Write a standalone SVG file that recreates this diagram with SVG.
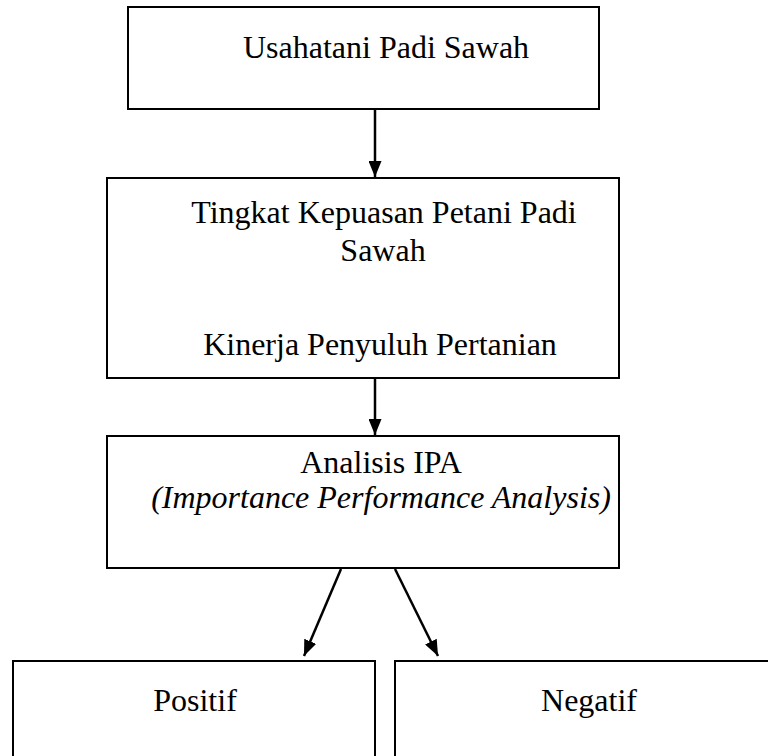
<svg xmlns="http://www.w3.org/2000/svg" width="768" height="756" viewBox="0 0 768 756">
  <defs>
    <marker id="arrow" viewBox="0 0 16 13" refX="16" refY="6.5" markerWidth="16" markerHeight="13" markerUnits="userSpaceOnUse" orient="auto">
      <path d="M0,0 L16,6.5 L0,13 z" fill="#000"/>
    </marker>
    <style>
      .box { fill: #fff; stroke: #000; stroke-width: 2; }
      .lbl { font-size: 32px; fill: #000; text-anchor: middle; }
      .it { font-style: italic; }
      .con { stroke: #000; stroke-width: 2.5; fill: none; marker-end: url(#arrow); }
    </style>
  </defs>
  <rect width="768" height="756" fill="#fff"/>
  <g id="connectors">
    <line class="con" x1="375" y1="109" x2="375" y2="177"/>
    <line class="con" x1="375" y1="379" x2="375" y2="435"/>
    <line class="con" x1="341" y1="569" x2="304" y2="656"/>
    <line class="con" x1="395" y1="569" x2="438" y2="656"/>
  </g>
  <g font-family="'Liberation Serif', 'Times New Roman', serif">
  <g id="node-usahatani">
    <rect class="box" x="128" y="7" width="471" height="102"/>
    <text class="lbl" x="386" y="58">Usahatani Padi Sawah</text>
  </g>
  <g id="node-tingkat">
    <rect class="box" x="107" y="178" width="512" height="200"/>
    <text class="lbl" x="384" y="223">Tingkat Kepuasan Petani Padi</text>
    <text class="lbl" x="383" y="261">Sawah</text>
    <text class="lbl" x="380" y="355">Kinerja Penyuluh Pertanian</text>
  </g>
  <g id="node-ipa">
    <rect class="box" x="107" y="436" width="512" height="132"/>
    <text class="lbl" x="381" y="473">Analisis IPA</text>
    <text class="lbl it" x="381" y="508">(Importance Performance Analysis)</text>
  </g>
  <g id="node-positif">
    <rect class="box" x="13" y="661" width="362" height="110"/>
    <text class="lbl" x="195" y="711">Positif</text>
  </g>
  <g id="node-negatif">
    <rect class="box" x="395" y="661" width="390" height="110"/>
    <text class="lbl" x="589" y="711">Negatif</text>
  </g>
  </g>
</svg>
